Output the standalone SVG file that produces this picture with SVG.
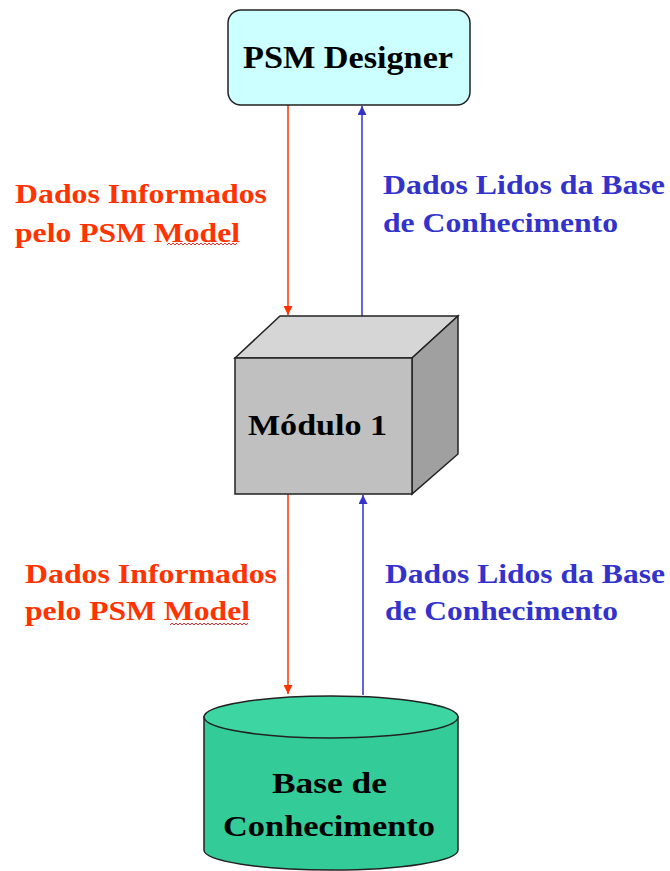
<svg xmlns="http://www.w3.org/2000/svg" width="670" height="871" viewBox="0 0 670 871">
<defs>
<style>
.lbl{font-family:"Liberation Serif","Times New Roman",serif;font-weight:bold;font-size:27px}
.red{fill:#ff3300}
.blue{fill:#3333cc}
.node{font-family:"Liberation Serif","Times New Roman",serif;font-weight:bold;fill:#000}
.edge-r{stroke:#ff3300;stroke-width:1.5;fill:none}
.edge-b{stroke:#3333cc;stroke-width:1.5;fill:none}
.squig{stroke:#e03030;stroke-width:1;fill:none}
</style>
<marker id="ahr" viewBox="0 0 10 10" refX="10" refY="5" markerWidth="10" markerHeight="9" markerUnits="userSpaceOnUse" orient="auto">
<path d="M0,0 L10,5 L0,10 z" fill="#ff3300"/>
</marker>
<marker id="ahb" viewBox="0 0 10 10" refX="10" refY="5" markerWidth="10" markerHeight="9" markerUnits="userSpaceOnUse" orient="auto">
<path d="M0,0 L10,5 L0,10 z" fill="#3333cc"/>
</marker>
</defs>
<rect width="670" height="871" fill="#ffffff"/>

<g id="connectors">
<line class="edge-r" x1="288" y1="105" x2="288" y2="315" marker-end="url(#ahr)"/>
<line class="edge-b" x1="362" y1="316" x2="362" y2="106" marker-end="url(#ahb)"/>
<line class="edge-r" x1="288" y1="494" x2="288" y2="694" marker-end="url(#ahr)"/>
<line class="edge-b" x1="363" y1="695" x2="363" y2="495" marker-end="url(#ahb)"/>
</g>

<g id="psm-designer">
<rect x="228" y="10" width="242" height="95" rx="13" ry="13" fill="#ccffff" stroke="#222" stroke-width="1.5"/>
<text class="node" x="243" y="68" font-size="32" textLength="210" lengthAdjust="spacingAndGlyphs">PSM Designer</text>
</g>

<g id="modulo1">
<polygon points="235,358 280,316 458,316 412,358" fill="#d6d6d6" stroke="#222" stroke-width="1.5"/>
<polygon points="412,358 458,316 458,454 412,494" fill="#a0a0a0" stroke="#222" stroke-width="1.5"/>
<rect x="235" y="358" width="177" height="136" fill="#c0c0c0" stroke="#222" stroke-width="1.5"/>
<text class="node" x="248" y="435" font-size="30" textLength="139" lengthAdjust="spacingAndGlyphs">Módulo 1</text>
</g>

<g id="base-conhecimento">
<path d="M204,717 L204,850 A127,20 0 0 0 458,850 L458,717 Z" fill="#33cc99" stroke="#222" stroke-width="1.5"/>
<ellipse cx="331" cy="717" rx="127" ry="21" fill="#3dd6a3" stroke="#222" stroke-width="1.5"/>
<text class="node" x="272" y="793" font-size="30" textLength="115" lengthAdjust="spacingAndGlyphs">Base de</text>
<text class="node" x="223" y="836" font-size="30" textLength="212" lengthAdjust="spacingAndGlyphs">Conhecimento</text>
</g>

<g id="label-red-top">
<text class="lbl red" x="15" y="203" textLength="252" lengthAdjust="spacingAndGlyphs">Dados Informados</text>
<text class="lbl red" x="15" y="242" textLength="225" lengthAdjust="spacingAndGlyphs">pelo PSM Model</text>
<path class="squig" d="M167,245 l2,-2 l2,2 l2,-2 l2,2 l2,-2 l2,2 l2,-2 l2,2 l2,-2 l2,2 l2,-2 l2,2 l2,-2 l2,2 l2,-2 l2,2 l2,-2 l2,2 l2,-2 l2,2 l2,-2 l2,2 l2,-2 l2,2 l2,-2 l2,2 l2,-2 l2,2 l2,-2 l2,2 l2,-2 l2,2 l2,-2 l2,2 l2,-2"/>
</g>

<g id="label-blue-top">
<text class="lbl blue" x="383" y="194" textLength="282" lengthAdjust="spacingAndGlyphs">Dados Lidos da Base</text>
<text class="lbl blue" x="383" y="232" textLength="235" lengthAdjust="spacingAndGlyphs">de Conhecimento</text>
</g>

<g id="label-red-bottom">
<text class="lbl red" x="25" y="583" textLength="252" lengthAdjust="spacingAndGlyphs">Dados Informados</text>
<text class="lbl red" x="25" y="620" textLength="225" lengthAdjust="spacingAndGlyphs">pelo PSM Model</text>
<path class="squig" d="M170,625 l2,-2 l2,2 l2,-2 l2,2 l2,-2 l2,2 l2,-2 l2,2 l2,-2 l2,2 l2,-2 l2,2 l2,-2 l2,2 l2,-2 l2,2 l2,-2 l2,2 l2,-2 l2,2 l2,-2 l2,2 l2,-2 l2,2 l2,-2 l2,2 l2,-2 l2,2 l2,-2 l2,2 l2,-2 l2,2 l2,-2 l2,2 l2,-2 l2,2 l2,-2 l2,2 l2,-2"/>
</g>

<g id="label-blue-bottom">
<text class="lbl blue" x="385" y="583" textLength="280" lengthAdjust="spacingAndGlyphs">Dados Lidos da Base</text>
<text class="lbl blue" x="385" y="620" textLength="233" lengthAdjust="spacingAndGlyphs">de Conhecimento</text>
</g>
</svg>
